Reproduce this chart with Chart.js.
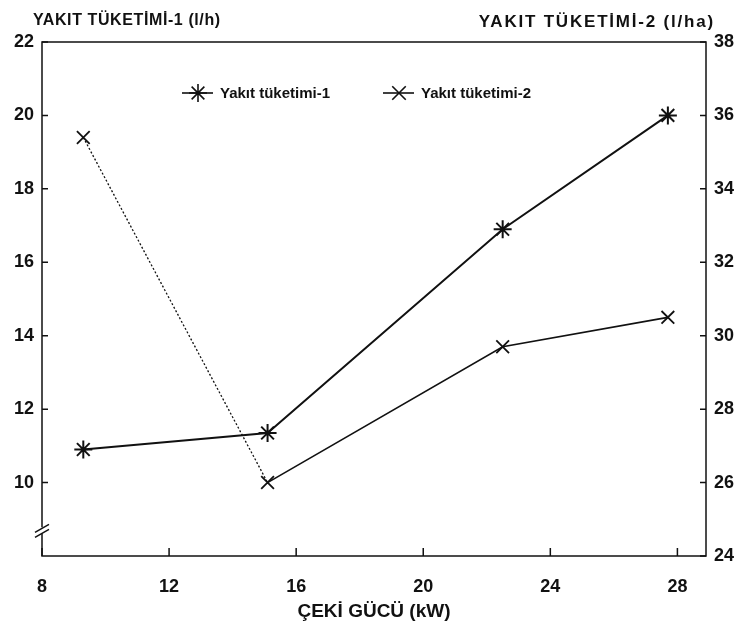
<!DOCTYPE html>
<html>
<head>
<meta charset="utf-8">
<script src="https://cdn.jsdelivr.net/npm/chart.js@4/dist/chart.umd.min.js"></script>
<style>
  html, body { margin: 0; padding: 0; background: #fff; }
  #wrap { width: 745px; height: 636px; }
</style>
</head>
<body>
<div id="wrap"><canvas id="fuelChart" width="745" height="636"></canvas></div>
<script>
// values
const drawbarPower = [9.3, 15.1, 22.5, 27.7];        // ÇEKİ GÜCÜ (kW)
const fuelPerHour = [10.9, 11.35, 16.9, 20.0];       // Yakıt tüketimi-1 (l/h)
const fuelPerHectare = [35.4, 26.0, 29.7, 30.5];     // Yakıt tüketimi-2 (l/ha)
const xTicks = [8, 12, 16, 20, 24, 28];
const leftTicks = [10, 12, 14, 16, 18, 20, 22];
const rightTicks = [24, 26, 28, 30, 32, 34, 36, 38];

const ink = "#111111";
const fontFamily = "'Liberation Sans Narrow', 'Liberation Sans', Arial, sans-serif";

function points(xs, ys) {
    return xs.map((x, i) => ({ x: x, y: ys[i] }));
}

function setTicks(values) {
    return (scale) => { scale.ticks = values.map((v) => ({ value: v })); };
}

function drawMarker(ctx, style, x, y, r) {
    ctx.beginPath();
    if (style === "star") {
        for (let k = 0; k < 4; k++) {
            const a = k * Math.PI / 4;
            ctx.moveTo(x - r * Math.cos(a), y - r * Math.sin(a));
            ctx.lineTo(x + r * Math.cos(a), y + r * Math.sin(a));
        }
    } else {
        ctx.moveTo(x - r * 0.75, y - r * 0.75);
        ctx.lineTo(x + r * 0.75, y + r * 0.75);
        ctx.moveTo(x + r * 0.75, y - r * 0.75);
        ctx.lineTo(x - r * 0.75, y + r * 0.75);
    }
    ctx.stroke();
}

const decorations = {
    id: "decorations",
    afterDraw(chart) {
        const { ctx, chartArea: area, scales } = chart;
        ctx.save();
        ctx.strokeStyle = ink;
        ctx.fillStyle = ink;
        ctx.lineWidth = 1.5;

        // frame
        ctx.strokeRect(area.left, area.top, area.right - area.left, area.bottom - area.top);

        // inward tick marks
        ctx.beginPath();
        leftTicks.forEach((v) => {
            const y = scales.y.getPixelForValue(v);
            ctx.moveTo(area.left, y);
            ctx.lineTo(area.left + 6, y);
        });
        rightTicks.forEach((v) => {
            const y = scales.y2.getPixelForValue(v);
            ctx.moveTo(area.right, y);
            ctx.lineTo(area.right - 6, y);
        });
        xTicks.forEach((v) => {
            const x = scales.x.getPixelForValue(v);
            ctx.moveTo(x, area.bottom);
            ctx.lineTo(x, area.bottom - 8);
        });
        ctx.stroke();

        // axis break on the left axis
        const yb = scales.y.getPixelForValue(8.7);
        ctx.fillStyle = "#fff";
        ctx.fillRect(area.left - 3, yb - 3, 6, 6);
        ctx.beginPath();
        ctx.moveTo(area.left - 7, yb + 2);
        ctx.lineTo(area.left + 7, yb - 6);
        ctx.moveTo(area.left - 7, yb + 7);
        ctx.lineTo(area.left + 7, yb - 1);
        ctx.stroke();

        // axis titles at the top
        ctx.fillStyle = ink;
        ctx.font = "bold 16px " + fontFamily;
        ctx.textBaseline = "alphabetic";
        ctx.textAlign = "left";
        ctx.letterSpacing = "0.6px";
        ctx.fillText("YAKIT TÜKETİMİ-1 (l/h)", 33, 25);
        ctx.textAlign = "right";
        ctx.font = "bold 17px " + fontFamily;
        ctx.letterSpacing = "1.8px";
        ctx.fillText("YAKIT TÜKETİMİ-2 (l/ha)", 715, 27);
        ctx.letterSpacing = "0px";

        // legend inside the plot
        ctx.font = "bold 15px " + fontFamily;
        ctx.textAlign = "left";
        ctx.textBaseline = "middle";
        const items = [
            { x: 182, label: "Yakıt tüketimi-1", style: "star" },
            { x: 383, label: "Yakıt tüketimi-2", style: "crossRot" },
        ];
        items.forEach((it) => {
            const ly = 93;
            ctx.lineWidth = 1.6;
            ctx.beginPath();
            ctx.moveTo(it.x, ly);
            ctx.lineTo(it.x + 31, ly);
            ctx.stroke();
            drawMarker(ctx, it.style, it.x + 16, ly, 9);
            ctx.fillText(it.label, it.x + 38, ly + 1);
        });
        ctx.restore();
    },
};

new Chart(document.getElementById("fuelChart"), {
    type: "scatter",
    data: {
        datasets: [
            {
                label: "Yakıt tüketimi-1",
                data: points(drawbarPower, fuelPerHour),
                yAxisID: "y",
                showLine: true,
                borderColor: ink,
                borderWidth: 2,
                pointStyle: "star",
                pointRadius: 9,
                pointBorderWidth: 2,
                pointBorderColor: ink,
                pointBackgroundColor: ink,
            },
            {
                label: "Yakıt tüketimi-2",
                data: points(drawbarPower, fuelPerHectare),
                yAxisID: "y2",
                showLine: true,
                borderColor: ink,
                borderWidth: 1.6,
                segment: {
                    borderDash: (ctx) => (ctx.p0DataIndex === 0 ? [2, 2] : undefined),
                    borderWidth: (ctx) => (ctx.p0DataIndex === 0 ? 1.3 : undefined),
                },
                pointStyle: "crossRot",
                pointRadius: 9,
                pointBorderWidth: 1.8,
                pointBorderColor: ink,
            },
        ],
    },
    options: {
        responsive: false,
        animation: false,
        layout: { padding: { top: 42 } },
        plugins: {
            legend: { display: false },
            tooltip: { enabled: false },
        },
        scales: {
            x: {
                type: "linear",
                min: 8,
                max: 28.9,
                afterBuildTicks: setTicks(xTicks),
                afterFit: (s) => { s.height = 80; },
                grid: { display: false, drawTicks: false },
                border: { display: false },
                ticks: { color: ink, padding: 20, font: { family: fontFamily, size: 18, weight: "bold" } },
                title: {
                    display: true,
                    text: "ÇEKİ GÜCÜ (kW)",
                    color: ink,
                    padding: { top: 4, bottom: 13 },
                    font: { family: fontFamily, size: 19, weight: "bold" },
                },
            },
            y: {
                position: "left",
                min: 8,
                max: 22,
                afterBuildTicks: setTicks(leftTicks),
                afterFit: (s) => { s.width = 42; },
                grid: { display: false, drawTicks: false },
                border: { display: false },
                ticks: { color: ink, padding: 8, font: { family: fontFamily, size: 18, weight: "bold" } },
            },
            y2: {
                position: "right",
                min: 24,
                max: 38,
                afterBuildTicks: setTicks(rightTicks),
                afterFit: (s) => { s.width = 39; },
                grid: { display: false, drawTicks: false },
                border: { display: false },
                ticks: { color: ink, padding: 8, font: { family: fontFamily, size: 18, weight: "bold" } },
            },
        },
    },
    plugins: [decorations],
});
</script>
</body>
</html>
